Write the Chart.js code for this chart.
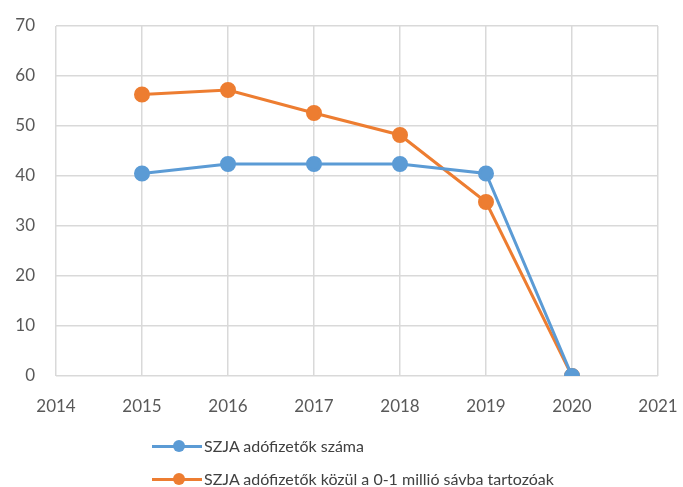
<!DOCTYPE html>
<html><head><meta charset="utf-8">
<script src="https://cdn.jsdelivr.net/npm/chart.js@4/dist/chart.umd.min.js"></script>
<style>
html,body{margin:0;padding:0;background:#fff;}
#wrap{position:relative;width:683px;height:487px;overflow:hidden;}
#legend{position:absolute;left:152px;top:429px;font-family:Lato,'Liberation Sans',sans-serif;font-size:16px;line-height:18px;color:#404040;}
.li{display:flex;align-items:center;height:33px;white-space:nowrap;}
.mk{position:relative;width:50px;height:14px;margin-right:2px;}
.mk .ln{position:absolute;left:0;right:0;top:6px;height:3px;}
.mk .dt{position:absolute;left:21px;top:1px;width:12px;height:12px;border-radius:50%;}
</style></head>
<body><div id="wrap"><canvas id="c" width="683" height="487"></canvas><div id="legend"></div></div>
<script>
const years = [2015, 2016, 2017, 2018, 2019, 2020];
const seriesNames = ['SZJA adófizetők száma', 'SZJA adófizetők közül a 0-1 millió sávba tartozóak'];
const taxpayers = [40.5, 42.4, 42.4, 42.4, 40.5, 0];
const band01 = [56.3, 57.2, 52.6, 48.2, 34.8, 0];
const xMin = 2014, xMax = 2021;
const yMin = 0, yMax = 70, yStep = 10;
const colors = ['#5B9BD5', '#ED7D31'];

const mk = vals => vals.map((v, i) => ({x: years[i], y: v}));
const fontFam = "Lato, 'Liberation Sans', sans-serif";
const chart = new Chart(document.getElementById('c'), {
  type: 'line',
  data: {
    datasets: [
      {label: seriesNames[0], data: mk(taxpayers), borderColor: colors[0], backgroundColor: colors[0], borderWidth: 3, pointRadius: 6.5, pointHoverRadius: 6.5, tension: 0},
      {label: seriesNames[1], data: mk(band01), borderColor: colors[1], backgroundColor: colors[1], borderWidth: 3, pointRadius: 6.5, pointHoverRadius: 6.5, tension: 0}
    ]
  },
  options: {
    responsive: false,
    animation: false,
    layout: {padding: {top: 26, right: 25, bottom: 71, left: 0}},
    plugins: {legend: {display: false}, tooltip: {enabled: false}},
    scales: {
      x: {
        type: 'linear', min: xMin, max: xMax,
        ticks: {stepSize: 1, callback: v => String(v), color: '#595959', font: {family: fontFam, size: 17}, padding: 20, maxRotation: 0},
        grid: {color: '#d9d9d9', lineWidth: 1.5, drawTicks: false},
        border: {display: false},
        afterFit: s => { s.height = 40; s.paddingLeft = 0; s.paddingRight = 0; }
      },
      y: {
        min: yMin, max: yMax,
        ticks: {stepSize: yStep, color: '#595959', font: {family: fontFam, size: 17}, padding: 21},
        grid: {color: '#d9d9d9', lineWidth: 1.5, drawTicks: false},
        border: {display: false},
        afterFit: s => { s.width = 56; s.paddingTop = 0; s.paddingBottom = 0; }
      }
    }
  }
});

const lg = document.getElementById('legend');
seriesNames.forEach((n, i) => {
  const d = document.createElement('div'); d.className = 'li';
  d.innerHTML = '<div class="mk"><div class="ln" style="background:' + colors[i] + '"></div><div class="dt" style="background:' + colors[i] + '"></div></div><span></span>';
  d.querySelector('span').textContent = n;
  lg.appendChild(d);
});
</script></body></html>
